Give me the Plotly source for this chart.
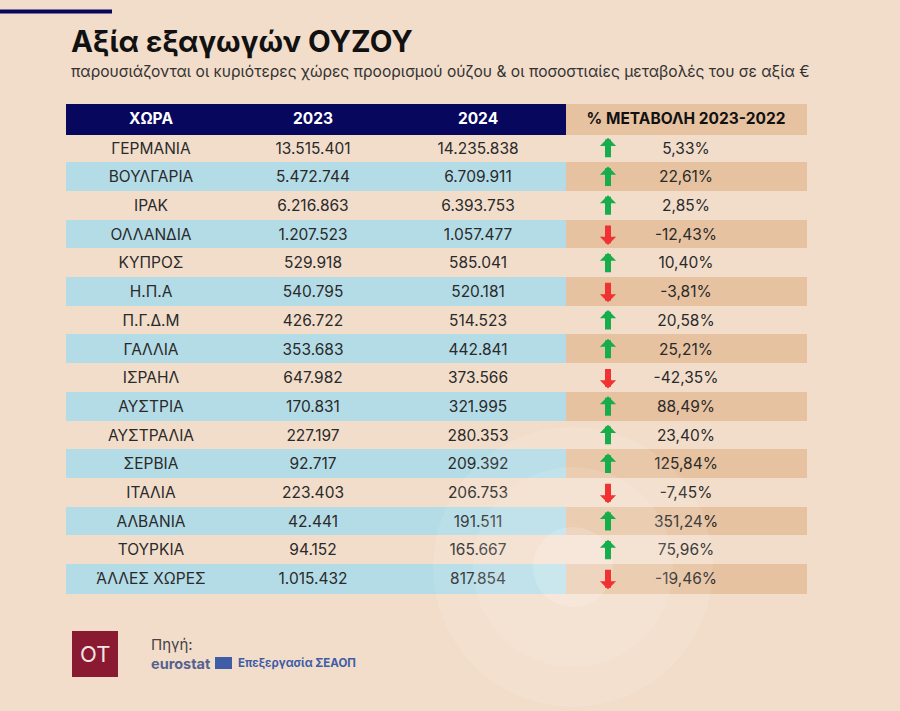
import plotly.graph_objects as go

# ---------------- data ----------------
countries = ["ΓΕΡΜΑΝΙΑ", "ΒΟΥΛΓΑΡΙΑ", "ΙΡΑΚ", "ΟΛΛΑΝΔΙΑ", "ΚΥΠΡΟΣ", "Η.Π.Α", "Π.Γ.Δ.Μ",
             "ΓΑΛΛΙΑ", "ΙΣΡΑΗΛ", "ΑΥΣΤΡΙΑ", "ΑΥΣΤΡΑΛΙΑ", "ΣΕΡΒΙΑ", "ΙΤΑΛΙΑ", "ΑΛΒΑΝΙΑ",
             "ΤΟΥΡΚΙΑ", "ΆΛΛΕΣ ΧΩΡΕΣ"]
values_2023 = [13515401, 5472744, 6216863, 1207523, 529918, 540795, 426722, 353683,
               647982, 170831, 227197, 92717, 223403, 42441, 94152, 1015432]
values_2024 = [14235838, 6709911, 6393753, 1057477, 585041, 520181, 514523, 442841,
               373566, 321995, 280353, 209392, 206753, 191511, 165667, 817854]
pct_change = [5.33, 22.61, 2.85, -12.43, 10.40, -3.81, 20.58, 25.21, -42.35, 88.49,
              23.40, 125.84, -7.45, 351.24, 75.96, -19.46]
headers = ["ΧΩΡΑ", "2023", "2024", "% ΜΕΤΑΒΟΛΗ 2023-2022"]

title = "Αξία εξαγωγών ΟΥΖΟΥ"
subtitle = "παρουσιάζονται οι κυριότερες χώρες προορισμού ούζου & οι ποσοστιαίες μεταβολές του σε αξία €"

# ---------------- style ----------------
W, H = 900, 711
BG = "#f2ddca"
NAVY = "#07075e"
BLUE = "#b4dce7"
TAN = "#e7c2a1"
GREEN = "#17ad4c"
RED = "#f03232"
TXT = "#2a2a2a"
FONT = "Inter"
HEADER_H = 30
ROW_H = 28.7
TOP = 104
ROWS_TOP = 134


def fmt_int(v):
    return f"{v:,}".replace(",", ".")


def fmt_pct(p):
    return f"{p:.2f}".replace(".", ",") + "%"


def px(x):
    return x / W


def py(y):
    return 1 - y / H


n = len(countries)
left_fill = [BG if i % 2 == 0 else BLUE for i in range(n)]
right_fill = [BG if i % 2 == 0 else TAN for i in range(n)]

table_x = [px(66), px(806)]
table_y = [py(650), py(TOP)]

main = go.Table(
    domain=dict(x=table_x, y=table_y),
    columnwidth=[170, 154, 176, 240],
    header=dict(
        values=headers,
        fill_color=[NAVY, NAVY, NAVY, TAN],
        line=dict(color=[NAVY, NAVY, NAVY, TAN], width=1),
        font=dict(family=FONT, size=15.5, weight="bold",
                  color=["white", "white", "white", "#111111"]),
        align="center",
        height=HEADER_H,
    ),
    cells=dict(
        values=[countries,
                [fmt_int(v) for v in values_2023],
                [fmt_int(v) for v in values_2024],
                [fmt_pct(p) for p in pct_change]],
        fill_color=[left_fill, left_fill, left_fill, right_fill],
        line=dict(color=[left_fill, left_fill, left_fill, right_fill], width=1),
        font=dict(family=FONT, size=15.5, color=TXT),
        align="center",
        height=ROW_H,
    ),
)

fig = go.Figure([main])

rows_bottom = ROWS_TOP + n * ROW_H

shapes = [
    dict(type="line", xref="paper", yref="paper", x0=0, x1=px(112), y0=py(11.5), y1=py(11.5),
         line=dict(color=NAVY, width=4)),
    dict(type="rect", xref="paper", yref="paper", x0=px(72), x1=px(118), y0=py(677), y1=py(631),
         fillcolor="#8a1a31", line=dict(width=0)),
    dict(type="rect", xref="paper", yref="paper", x0=px(215), x1=px(232), y0=py(669), y1=py(657),
         fillcolor="#3f5ca6", line=dict(width=0)),
]
cx, cy = 573, 567
for r, op in [(140, 0.09), (100, 0.11), (40, 0.17)]:
    shapes.append(dict(type="circle", xref="paper", yref="paper", layer="above",
                       x0=px(cx - r), x1=px(cx + r), y0=py(cy + r), y1=py(cy - r),
                       fillcolor=f"rgba(255,255,255,{op})", line=dict(width=0)))

# direction arrows: annotation arrows on a hidden category axis aligned with the rows
annotations = []
for c, p in zip(countries, pct_change):
    up = p >= 0
    annotations.append(dict(
        text="", x=0, y=c, xref="x", yref="y", showarrow=True,
        arrowhead=1, arrowsize=0.45, arrowwidth=6,
        arrowcolor=GREEN if up else RED,
        ax=0, ay=21 if up else -21, axref="pixel", ayref="pixel",
        yshift=10.5 if up else -10.5, standoff=0,
    ))

annotations += [
    dict(text=f"<b>{title}</b>", x=px(69), y=py(41), xref="paper", yref="paper",
         xanchor="left", yanchor="middle", showarrow=False,
         font=dict(family=FONT, size=29.5, color="#111111")),
    dict(text=subtitle, x=px(69), y=py(72), xref="paper", yref="paper",
         xanchor="left", yanchor="middle", showarrow=False,
         font=dict(family=FONT, size=15.6, color="#333333")),
    dict(text="OT", x=px(95), y=py(654), xref="paper", yref="paper",
         xanchor="center", yanchor="middle", showarrow=False,
         font=dict(family=FONT, size=22, color="#f4e4e4")),
    dict(text="Πηγή:", x=px(149), y=py(644), xref="paper", yref="paper",
         xanchor="left", yanchor="middle", showarrow=False,
         font=dict(family=FONT, size=15, color="#444444")),
    dict(text="<b>eurostat</b>", x=px(149), y=py(663), xref="paper", yref="paper",
         xanchor="left", yanchor="middle", showarrow=False,
         font=dict(family=FONT, size=14.5, color="#55628f")),
    dict(text="<b>Επεξεργασία ΣΕΑΟΠ</b>", x=px(236), y=py(663), xref="paper", yref="paper",
         xanchor="left", yanchor="middle", showarrow=False,
         font=dict(family=FONT, size=11.5, color="#3f5ca6")),
]

fig.update_layout(
    width=W, height=H,
    margin=dict(l=0, r=0, t=0, b=0),
    paper_bgcolor=BG, plot_bgcolor="rgba(0,0,0,0)",
    shapes=shapes, annotations=annotations,
    showlegend=False,
    xaxis=dict(domain=[px(566), px(650)], range=[-1, 1], visible=False, fixedrange=True),
    yaxis=dict(domain=[py(rows_bottom), py(ROWS_TOP)], type="category",
               categoryorder="array", categoryarray=countries,
               range=[n - 0.5, -0.5], visible=False, fixedrange=True),
)

fig.write_html("out.html", config={"displayModeBar": False},
               post_script="document.body.style.margin='0';")
